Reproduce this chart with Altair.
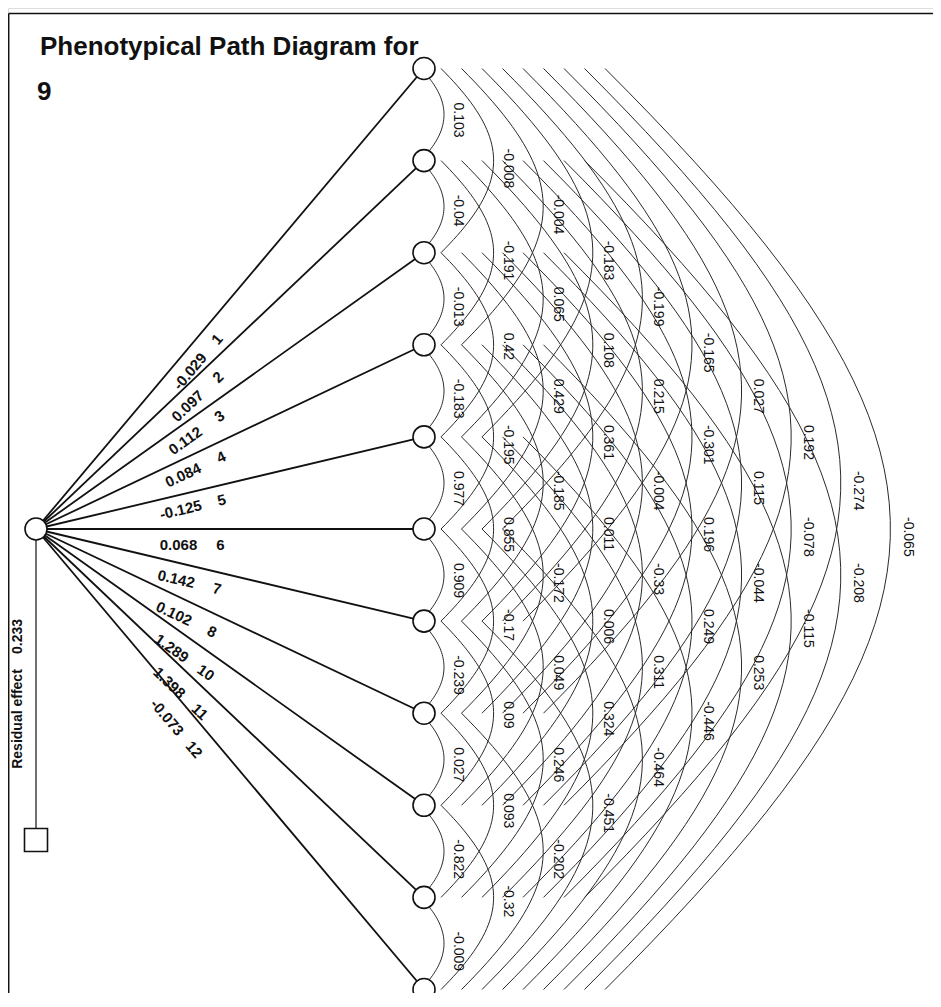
import altair as alt
import pandas as pd
import numpy as np

# ---------------- data ----------------
variables = ["1", "2", "3", "4", "5", "6", "7", "8", "10", "11", "12"]
direct_effects = [-0.029, 0.097, 0.112, 0.084, -0.125, 0.068, 0.142, 0.102, 1.289, 1.398, -0.073]
residual_effect = 0.233
# correlations between variables i and i+d (d = 1..10)
corr_d1 = [0.103, -0.04, -0.013, -0.183, 0.977, 0.909, -0.239, 0.027, -0.822, -0.009]
corr_d2 = [-0.008, -0.191, 0.42, -0.195, 0.855, -0.17, 0.09, 0.093, -0.32]
corr_d3 = [-0.004, 0.065, 0.429, -0.185, -0.172, 0.049, 0.246, -0.202]
corr_d4 = [-0.183, 0.108, 0.361, 0.011, 0.006, 0.324, -0.451]
corr_d5 = [-0.199, 0.215, -0.004, -0.33, 0.311, -0.464]
corr_d6 = [-0.165, -0.301, 0.196, 0.249, -0.446]
corr_d7 = [0.027, 0.115, -0.044, 0.253]
corr_d8 = [0.192, -0.078, -0.115]
corr_d9 = [-0.274, -0.208]
corr_d10 = [-0.065]
title_line1 = "Phenotypical Path Diagram for"
title_line2 = "9"
residual_label = "Residual effect"

corr_by_distance = [corr_d1, corr_d2, corr_d3, corr_d4, corr_d5,
                    corr_d6, corr_d7, corr_d8, corr_d9, corr_d10]

# ---------------- layout ----------------
W, H = 925, 985
FONT = "Liberation Sans, Arial, Helvetica, sans-serif"
n = len(variables)
node_x = 424
node_y = [68.5 + 92.1 * i for i in range(n)]
cx, cy = 36, 529

xs = alt.Scale(domain=[8, 8 + W], nice=False, zero=False)
ys = alt.Scale(domain=[8, 8 + H], nice=False, zero=False, reverse=True)
X = lambda f: alt.X(f, scale=xs, axis=None)
Y = lambda f: alt.Y(f, scale=ys, axis=None)

# arcs (cubic curves bulging right) and their labels
arc_rows, arc_lab = [], []
ts = np.linspace(0, 1, 48)
for d, vals in enumerate(corr_by_distance, start=1):
    x0 = 420.5 + 20.5 * (d - 1)
    xm = 444 + 49.6 * (d - 1)
    c = (xm - x0) / 0.75
    for i, v in enumerate(vals):
        ya, yb = node_y[i], node_y[i + d]
        P = [(x0, ya), (x0 + c, ya + c), (x0 + c, yb - c), (x0, yb)]
        for k, t in enumerate(ts):
            b = [(1 - t) ** 3, 3 * t * (1 - t) ** 2, 3 * t ** 2 * (1 - t), t ** 3]
            arc_rows.append({"pair": f"{i}-{i+d}", "k": k,
                             "x": sum(bb * p[0] for bb, p in zip(b, P)),
                             "y": sum(bb * p[1] for bb, p in zip(b, P))})
        arc_lab.append({"x": 458 + 50 * (d - 1), "y": (ya + yb) / 2 - 12,
                        "t": f"{v:g}"})
arc_df = pd.DataFrame(arc_rows)
arc_lab_df = pd.DataFrame(arc_lab)

# paths from the central node
path_df = pd.DataFrame({"x": [cx] * n, "y": [cy] * n,
                        "x2": [node_x] * n, "y2": node_y})
lab_rows = []
for k, (v, name) in enumerate(zip(direct_effects, variables)):
    th = np.arctan2(node_y[k] - cy, node_x - cx)
    vx, vy = 190 - 2.3 * k, 371.5 + 34.6 * k
    ang = float(np.degrees(th)) % 360
    lab_rows.append({"x": vx, "y": vy, "a": ang, "t": f"{v:g}"})
    lab_rows.append({"x": vx + 42 * np.cos(th), "y": vy + 42 * np.sin(th),
                     "a": ang, "t": name})
lab_df = pd.DataFrame(lab_rows)

nodes_df = pd.DataFrame({"x": [node_x] * n + [cx], "y": node_y + [cy]})

arcs = alt.Chart(arc_df).mark_line(color="#2a2a2a", strokeWidth=1.0).encode(
    x=X("x:Q"), y=Y("y:Q"), detail="pair:N", order="k:Q")
arc_text = alt.Chart(arc_lab_df).mark_text(
    angle=90, align="left", baseline="middle", font=FONT, fontSize=14,
    color="#111").encode(x=X("x:Q"), y=Y("y:Q"), text="t:N")
paths = alt.Chart(path_df).mark_rule(color="#111", strokeWidth=1.8).encode(
    x=X("x:Q"), y=Y("y:Q"), x2="x2:Q", y2="y2:Q")
path_text = alt.Chart(lab_df).mark_text(
    align="center", baseline="middle", font=FONT, fontSize=15,
    fontWeight="bold", color="#111").encode(
    x=X("x:Q"), y=Y("y:Q"), text="t:N", angle=alt.Angle("a:Q", scale=None))
nodes = alt.Chart(nodes_df).mark_point(
    shape="circle", size=484, filled=False, fill="white", fillOpacity=1,
    stroke="#111", strokeWidth=1.6, opacity=1).encode(x=X("x:Q"), y=Y("y:Q"))

# residual
res_line = alt.Chart(pd.DataFrame({"x": [cx], "y": [cy], "y2": [840]})).mark_rule(
    color="#111", strokeWidth=1.2).encode(x=X("x:Q"), y=Y("y:Q"), y2="y2:Q")
res_box = alt.Chart(pd.DataFrame({"x": [36], "y": [840]})).mark_point(
    shape="square", size=529, filled=False, fill="white", fillOpacity=1,
    stroke="#111", strokeWidth=1.6, opacity=1).encode(x=X("x:Q"), y=Y("y:Q"))
res_text = alt.Chart(pd.DataFrame({"x": [18, 18], "y": [719, 636.5],
                                   "t": [residual_label, f"{residual_effect:g}"]})).mark_text(
    angle=270, align="center", baseline="middle", font=FONT, fontSize=14,
    fontWeight="bold", color="#111").encode(x=X("x:Q"), y=Y("y:Q"), text="t:N")

# title
title = alt.Chart(pd.DataFrame({"x": [40, 37], "y": [55, 100],
                                "t": [title_line1, title_line2]})).mark_text(
    align="left", baseline="alphabetic", font=FONT, fontSize=26,
    fontWeight="bold", color="#111").encode(x=X("x:Q"), y=Y("y:Q"), text="t:N")

# frame
frame = alt.Chart(pd.DataFrame({"x": [8.7, 8.7], "y": [13.5, 13.5],
                                "x2": [933, 8.7], "y2": [13.5, 996]})).mark_rule(
    color="#111", strokeWidth=1.5).encode(x=X("x:Q"), y=Y("y:Q"), x2="x2:Q", y2="y2:Q")

chart = alt.layer(frame, arcs, arc_text, paths, res_line, res_box, nodes,
                  path_text, res_text, title).properties(
    width=W, height=H, padding=0,
    autosize=alt.AutoSizeParams(type="none")
).configure_view(stroke=None).configure(background="white")

chart.save("out.html", embed_options={"renderer": "svg", "actions": False})
